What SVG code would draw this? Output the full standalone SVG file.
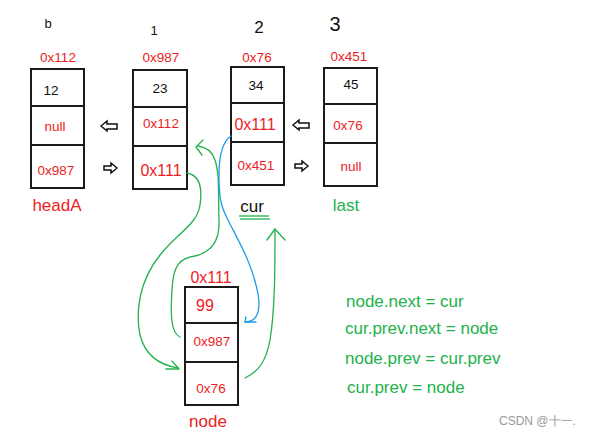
<svg xmlns="http://www.w3.org/2000/svg" width="591" height="436" viewBox="0 0 591 436">
<style>
.box{fill:#fff;stroke:#1a1a1a;stroke-width:2}
.div{stroke:#1a1a1a;stroke-width:2}
text{font-family:"Liberation Sans","DejaVu Sans",sans-serif}
.red{fill:#ed1c24}
.blk{fill:#111}
.grn{fill:#22b14c}
.addr{font-size:13.5px;text-anchor:middle}
.cell{font-size:13.5px;text-anchor:middle}
.big{font-size:16px;text-anchor:middle}
.name{font-size:17px;text-anchor:middle}
.hand{fill:none;stroke:#111;stroke-width:1.5;stroke-linecap:round}
.g{fill:none;stroke:#22b14c;stroke-width:1.3;stroke-linecap:round;stroke-linejoin:round}
.b{fill:none;stroke:#1e9be8;stroke-width:1.3;stroke-linecap:round;stroke-linejoin:round}
.ha{fill:#fff;stroke:#111;stroke-width:1.5;stroke-linejoin:miter}
.code{font-size:17px;fill:#22b14c}
</style>
<rect width="591" height="436" fill="#fff"/>
<g id="indices">
<text x="48" y="28" font-size="13" text-anchor="middle" class="blk">b</text>
<text x="154" y="35" font-size="13" text-anchor="middle" class="blk">1</text>
<text x="259" y="33" font-size="17" text-anchor="middle" class="blk">2</text>
<text x="335" y="31" font-size="20" text-anchor="middle" class="blk">3</text>
</g>
<g id="node0">
<text x="58" y="62" class="addr red">0x112</text>
<rect x="31" y="69" width="53" height="119" class="box"/>
<line x1="31" y1="106" x2="84" y2="106" class="div"/>
<line x1="31" y1="145" x2="84" y2="145" class="div"/>
<text x="51" y="95" class="cell blk">12</text>
<text x="55" y="131" class="cell red">null</text>
<text x="56" y="175" class="cell red">0x987</text>
<text x="57" y="211" class="name red">headA</text>
</g>
<g id="node1">
<text x="161" y="62" class="addr red">0x987</text>
<rect x="133" y="70" width="54" height="119" class="box"/>
<line x1="133" y1="107" x2="187" y2="107" class="div"/>
<line x1="133" y1="146" x2="187" y2="146" class="div"/>
<text x="160" y="93" class="cell blk">23</text>
<text x="161" y="128" class="cell red">0x112</text>
<text x="161" y="176" class="big red">0x111</text>
</g>
<g id="node2">
<text x="257" y="62" class="addr red">0x76</text>
<rect x="231" y="67" width="53" height="118" class="box"/>
<line x1="231" y1="103" x2="284" y2="103" class="div"/>
<line x1="231" y1="142" x2="284" y2="142" class="div"/>
<text x="256" y="90" class="cell blk">34</text>
<text x="255" y="130" class="big red">0x111</text>
<text x="256" y="170" class="cell red">0x451</text>
<text x="252" y="212" class="name blk">cur</text>
<line x1="239" y1="216" x2="269" y2="216" stroke="#22b14c" stroke-width="1.3"/>
<line x1="240" y1="219" x2="270" y2="219" stroke="#22b14c" stroke-width="1.3"/>
</g>
<g id="node3">
<text x="349" y="61" class="addr red">0x451</text>
<rect x="324" y="68" width="53" height="118" class="box"/>
<line x1="324" y1="104" x2="377" y2="104" class="div"/>
<line x1="324" y1="143" x2="377" y2="143" class="div"/>
<text x="351" y="89" class="cell blk">45</text>
<text x="348" y="130" class="cell red">0x76</text>
<text x="351" y="171" class="cell red">null</text>
<text x="346" y="211" class="name grn">last</text>
</g>
<g id="newnode">
<text x="211" y="283" class="big red">0x111</text>
<rect x="185" y="287" width="53" height="118" class="box"/>
<line x1="185" y1="323" x2="238" y2="323" class="div"/>
<line x1="185" y1="362" x2="238" y2="362" class="div"/>
<text x="205" y="311" class="big red">99</text>
<text x="212" y="346" class="cell red">0x987</text>
<text x="211" y="393" class="cell red">0x76</text>
<text x="208" y="427" class="name red">node</text>
</g>
<g id="connectors">
<polygon class="ha" points="101,126 107,121 107,124 117,124 117,129 107,129 107,131"/>
<polygon class="ha" points="117,168 111,163 111,166 104,166 104,170 111,170 111,173"/>
<polygon class="ha" points="293,125 299,120 299,123 309,123 309,128 299,128 299,130"/>
<polygon class="ha" points="308,166 302,161 302,164 295,164 295,168 302,168 302,171"/>
<path class="g" d="M187,173 C198,175 203,185 200,205 C197,225 178,232 160,255 C140,280 135,310 140,335 C145,355 160,365 178,368"/>
<path class="g" d="M166,369 L179,369 L172,361"/>
<path class="g" d="M180,337 C172,333 170,320 172,290 C173,265 180,258 195,256 C212,252 220,240 219,220 C218,195 220,175 215,160 C212,150 205,147 198,146"/>
<path class="g" d="M203,140 L196,147 L202,155"/>
<path class="g" d="M245,378 C258,372 266,362 270,340 C275,310 275,270 275,229"/>
<path class="g" d="M267,240 L275,229 L285,240"/>
<path class="b" d="M231,136 C222,142 219,155 219,175 C219,195 220,205 228,220 C238,240 250,260 256,285 C260,300 260,312 255,318 C252,321 248,322 245,322"/>
<path class="b" d="M246,317 L245,322 L256,322"/>
</g>
<g id="code">
<text x="346" y="307" class="code">node.next = cur</text>
<text x="345" y="334" class="code">cur.prev.next = node</text>
<text x="345" y="364" class="code">node.prev = cur.prev</text>
<text x="347" y="393" class="code">cur.prev = node</text>
</g>
<text x="499" y="425" font-size="12" fill="#999" font-family="'Liberation Sans','Noto Sans CJK SC',sans-serif">CSDN @十一.</text>
</svg>
